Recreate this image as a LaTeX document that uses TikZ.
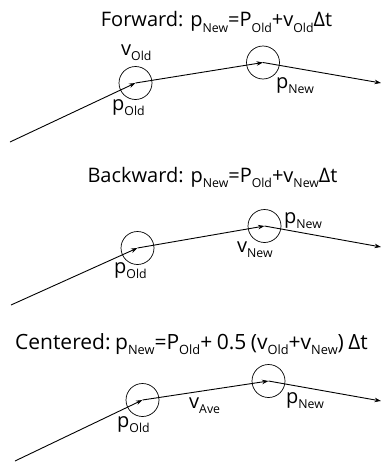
\documentclass[tikz,border=0pt]{standalone}
\usepackage{fontspec}
\setmainfont{Open Sans}
\usetikzlibrary{arrows.meta}
\newcommand\sbx[1]{\raisebox{-5.5pt}{\fontsize{12.3}{12.3}\selectfont #1}}
\newcommand\sbw[1]{\raisebox{-5.8pt}{\fontsize{12.8}{12.8}\selectfont #1}}
\newcommand\wsp{\hspace{4.5pt}}
\tikzset{
  vec/.style={line width=0.9pt,-{Stealth[length=6.5pt,width=4.5pt]}},
  ring/.style={circle,draw,line width=0.7pt,minimum size=33pt,inner sep=0pt},
  ttl/.style={anchor=base,inner sep=0pt,font=\fontsize{20}{20}\selectfont},
  ttw/.style={anchor=base,inner sep=0pt,font=\fontsize{21}{21}\selectfont},
  lbl/.style={anchor=base west,inner sep=0pt,font=\fontsize{20}{20}\selectfont},
}
\begin{document}
\begin{tikzpicture}[x=1pt,y=-1pt]
\useasboundingbox (0,0) rectangle (382,463);
% Panel 1
\node[ttl] (t1) at (216.5,27) {Forward: p\sbx{New}=P\sbx{Old}+v\sbx{Old}Δt};
\node[ring] (a1) at (135.5,83) {};
\node[ring] (a2) at (263,62.5) {};
\coordinate (a0) at (10,142);
\coordinate (a3) at (381,83);
\draw[vec] (a0) -- (a1.center);
\draw[vec] (a1.center) -- (a2.center);
\draw[vec] (a2.center) -- (a3);
\node[lbl] (l1) at (121,55) {v\sbx{Old}};
\node[lbl] (l2) at (112,110) {p\sbx{Old}};
\node[lbl] (l3) at (276,88) {p\sbx{New}};
% Panel 2
\node[ttl] (t2) at (212.5,182) {Backward: p\sbx{New}=P\sbx{Old}+v\sbx{New}Δt};
\node[ring] (b1) at (137.5,248) {};
\node[ring] (b2) at (264.5,226) {};
\coordinate (b0) at (11,305);
\coordinate (b3) at (381,247);
\draw[vec] (b0) -- (b1.center);
\draw[vec] (b1.center) -- (b2.center);
\draw[vec] (b2.center) -- (b3);
\node[lbl] (m1) at (284,223) {p\sbx{New}};
\node[lbl] (m2) at (237,252) {v\sbx{New}};
\node[lbl] (m3) at (114,273) {p\sbx{Old}};
% Panel 3
\node[ttw] (t3) at (191.5,349) {Centered:\wsp p\sbw{New}=P\sbw{Old}+\wsp 0.5\wsp (v\sbw{Old}+v\sbw{New})\wsp Δt};
\node[ring] (c1) at (142.5,400) {};
\node[ring] (c2) at (268.5,381) {};
\coordinate (c0) at (15,461);
\coordinate (c3) at (381,401);
\draw[vec] (c0) -- (c1.center);
\draw[vec] (c1.center) -- (c2.center);
\draw[vec] (c2.center) -- (c3);
\node[lbl] (n1) at (286,403) {p\sbx{New}};
\node[lbl] (n2) at (189,408) {v\sbx{Ave}};
\node[lbl] (n3) at (117,427) {p\sbx{Old}};
\end{tikzpicture}
\end{document}
